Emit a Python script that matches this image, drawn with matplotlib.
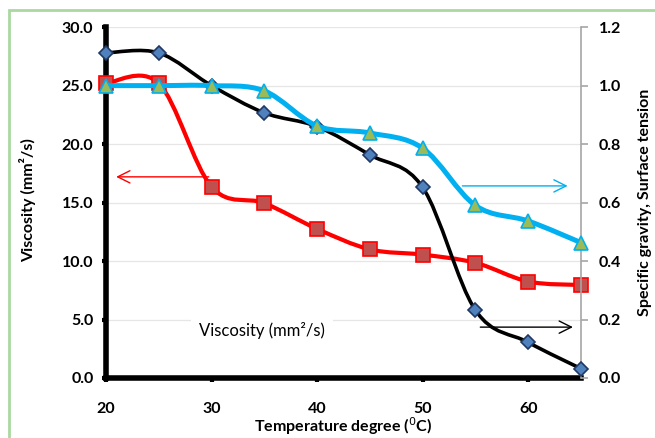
import numpy as np
import matplotlib
matplotlib.use('Agg')
import matplotlib.pyplot as plt
from matplotlib.path import Path
from matplotlib.patches import PathPatch, Rectangle

plt.rcParams['font.family'] = ['Lato', 'DejaVu Sans']

# data
temperature = [20, 25, 30, 35, 40, 45, 50, 55, 60, 65]
viscosity = [25.2, 25.2, 16.35, 14.95, 12.75, 11.0, 10.55, 9.85, 8.25, 7.95]
specific_gravity = [1.112, 1.112, 1.0, 0.907, 0.86, 0.763, 0.652, 0.232, 0.122, 0.032]
surface_tension = [1.0, 1.0, 1.0, 0.982, 0.862, 0.838, 0.786, 0.59, 0.537, 0.463]

x_ticks = [20, 30, 40, 50, 60]


def smooth_path(x, y):
    # excel-like smoothed line: catmull-rom segments as cubic beziers
    pts = np.column_stack([x, y]).astype(float)
    n = len(pts)
    verts = [pts[0]]
    codes = [Path.MOVETO]
    for i in range(n - 1):
        p0 = pts[max(i - 1, 0)]
        p1 = pts[i]
        p2 = pts[i + 1]
        p3 = pts[min(i + 2, n - 1)]
        c1 = p1 + (p2 - p0) / 6.0
        c2 = p2 - (p3 - p1) / 6.0
        verts += [c1, c2, p2]
        codes += [Path.CURVE4] * 3
    return Path(verts, codes)


def draw_series(ax, x, y, line_color, lw, marker, ms, face, edge, z):
    patch = PathPatch(smooth_path(x, y), facecolor='none', edgecolor=line_color,
                      linewidth=lw, zorder=z, capstyle='round', joinstyle='round',
                      clip_on=False)
    ax.add_patch(patch)
    ax.plot(x, y, linestyle='none', marker=marker, markersize=ms,
            markerfacecolor=face, markeredgecolor=edge, markeredgewidth=1.2,
            zorder=z + 0.5, clip_on=False)


fig = plt.figure(figsize=(6.55, 4.38), dpi=100)
ax = fig.add_axes([0.1618, 0.137, 0.7252, 0.801])
ax2 = ax.twinx()

ax.set_xlim(20, 65)
ax.set_ylim(0, 30)
ax2.set_ylim(0, 1.2)

ax.set_yticks(np.arange(0, 31, 5))
ax.set_yticklabels(['%.1f' % v for v in np.arange(0, 31, 5)])
ax2.set_yticks(np.arange(0, 1.21, 0.2))
ax2.set_yticklabels(['%.1f' % v for v in np.arange(0, 1.21, 0.2)])
ax.set_xticks(x_ticks)

ax.grid(axis='y', color='#E6E6E6', linewidth=0.9, zorder=0)
ax.set_axisbelow(True)

for a in (ax, ax2):
    for s in ('top', 'left', 'right', 'bottom'):
        a.spines[s].set_visible(False)
ax.spines['left'].set_visible(True)
ax.spines['left'].set_linewidth(4.0)
ax.spines['bottom'].set_visible(True)
ax.spines['bottom'].set_linewidth(4.0)
ax2.spines['right'].set_visible(True)
ax2.spines['right'].set_color('#A6A6A6')
ax2.spines['right'].set_linewidth(1.2)

ax.tick_params(axis='y', direction='out', length=3, width=3, color='black',
               pad=6, labelsize=11.5)
ax.tick_params(axis='x', direction='out', length=3, width=3, color='black',
               pad=14, labelsize=11.5)
ax2.tick_params(axis='y', direction='out', length=5, width=1.2, color='#A6A6A6',
                pad=8, labelsize=11.5)
for lab in ax.get_xticklabels() + ax.get_yticklabels() + ax2.get_yticklabels():
    lab.set_fontweight('bold')

draw_series(ax, temperature, viscosity, '#FF0000', 3.0, 's', 10,
            '#C0504D', '#FF0000', 3)
draw_series(ax2, temperature, specific_gravity, 'black', 2.6, 'D', 7.5,
            '#4F81BD', '#1F3864', 3)
draw_series(ax2, temperature, surface_tension, '#00B0F0', 3.6, '^', 10,
            '#9BBB59', '#00B0F0', 5)

ax.set_ylabel('Viscosity (mm²/s)', fontsize=11.5, fontweight='bold')
ax.yaxis.set_label_coords(-0.148, 0.507)
ax2.set_ylabel('Specific gravity, Surface tension', fontsize=11.5,
               fontweight='bold', rotation=90)
ax2.yaxis.set_label_coords(1.12, 0.5)
ax.set_xlabel('Temperature degree ($^0$C)', fontsize=11.5, fontweight='bold')
ax.xaxis.set_label_coords(0.5, -0.105)

# arrows pointing to the axes
ax.annotate('', xy=(20.7, 17.2), xytext=(30, 17.2),
            arrowprops=dict(arrowstyle='->', color='#FF0000', lw=1.0,
                            mutation_scale=22), zorder=6)
ax2.annotate('', xy=(64.0, 0.657), xytext=(53.5, 0.657),
             arrowprops=dict(arrowstyle='->', color='#00B0F0', lw=1.0,
                             mutation_scale=22), zorder=6)
ax2.annotate('', xy=(64.5, 0.174), xytext=(55.2, 0.174),
             arrowprops=dict(arrowstyle='->', color='black', lw=1.0,
                             mutation_scale=22), zorder=6)

ax2.text(28.8, 0.164, 'Viscosity (mm²/s)', fontsize=12, va='center', ha='left',
         bbox=dict(facecolor='white', edgecolor='none', pad=6), zorder=1)

fig.patches.append(Rectangle((0.014, -0.5), 2.0, 0.977 + 0.5, transform=fig.transFigure,
                             fill=False, edgecolor='#A9D8A0', linewidth=2.0))

fig.savefig('out.png', dpi=100)
